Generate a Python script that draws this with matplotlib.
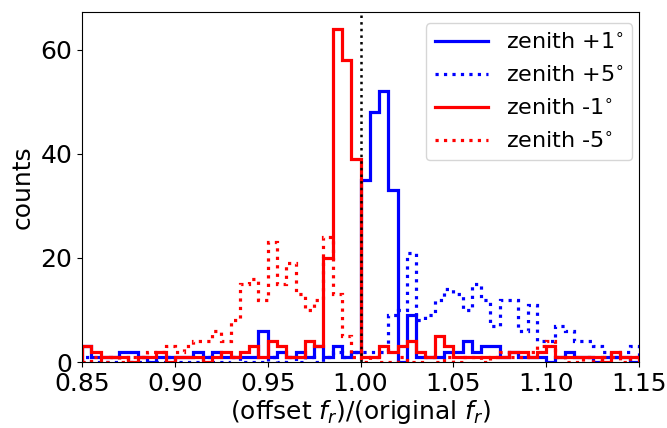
import numpy as np
import matplotlib
matplotlib.use("Agg")
import matplotlib.pyplot as plt

bin_lo, bin_hi, n_bins = 0.85, 1.15, 60

zen_p1 = [3, 1, 1, 1, 2, 2, 1, 0, 1, 1, 1, 1, 2, 1, 2, 1, 1, 1, 1, 6,
          1, 2, 1, 2, 1, 3, 1, 3, 1, 2, 35, 48, 52, 33, 0, 9, 1, 1, 1, 2,
          2, 4, 2, 3, 3, 1, 2, 1, 1, 1, 0, 1, 2, 1, 1, 0, 1, 1, 1, 0]
zen_p5 = [1, 0, 0, 0, 1, 0, 0, 0, 0, 1, 0, 0, 0, 1, 0, 0, 1, 0, 0, 0,
          1, 0, 1, 0, 1, 0, 1, 2, 1, 2, 2, 2, 2, 9, 10, 21, 8, 9, 12, 14,
          13, 10, 15, 12, 7, 12, 12, 6, 11, 4, 4, 7, 6, 4, 4, 3, 2, 1, 2, 3]
zen_m1 = [3, 2, 1, 1, 1, 0, 1, 1, 2, 0, 1, 1, 1, 0, 1, 2, 1, 2, 3, 1,
          4, 3, 1, 1, 4, 3, 20, 64, 58, 39, 1, 1, 3, 2, 3, 4, 2, 1, 5, 3,
          1, 1, 1, 1, 1, 1, 2, 2, 1, 2, 3, 1, 1, 1, 1, 1, 0, 2, 1, 1]
zen_m5 = [0, 1, 0, 1, 0, 1, 1, 2, 2, 3, 2, 3, 4, 4, 6, 4, 8, 15, 16, 12,
          23, 15, 19, 13, 10, 12, 24, 13, 5, 1, 0, 1, 0, 0, 1, 0, 0, 1, 0, 1,
          0, 1, 1, 0, 1, 2, 1, 1, 2, 3, 4, 1, 0, 0, 1, 0, 1, 1, 0, 1]

labels = ["zenith +1$^{\\circ}$", "zenith +5$^{\\circ}$",
          "zenith -1$^{\\circ}$", "zenith -5$^{\\circ}$"]
xticks = [0.85, 0.90, 0.95, 1.00, 1.05, 1.10, 1.15]

edges = np.linspace(bin_lo, bin_hi, n_bins + 1)

fig = plt.figure(figsize=(6.67, 4.28), dpi=100)
ax = fig.add_axes([82/667, 1-362/428, (639-82)/667, (362-12)/428])

series = [(zen_p1, 'blue', '-'), (zen_p5, 'blue', ':'),
          (zen_m1, 'red', '-'), (zen_m5, 'red', ':')]
for (vals, col, ls), lab in zip(series, labels):
    ax.stairs(vals, edges, color=col, linestyle=ls, linewidth=2.3, label=lab)

ax.axvline(1.0, color='black', linestyle=':', linewidth=1.8)

ax.set_xlim(bin_lo, bin_hi)
ax.set_ylim(0, 67.2)
ax.set_xticks(xticks)
ax.set_xticklabels([f"{t:.2f}" for t in xticks])
ax.set_yticks([0, 20, 40, 60])
ax.tick_params(labelsize=18)
ax.set_xlabel("(offset $f_r$)/(original $f_r$)", fontsize=18, labelpad=2)
ax.set_ylabel("counts", fontsize=18)
ax.legend(loc='upper right', fontsize=16, handlelength=2.4,
          bbox_to_anchor=(1.008, 1.0), labelspacing=0.55)

fig.savefig("out.png", dpi=100)
